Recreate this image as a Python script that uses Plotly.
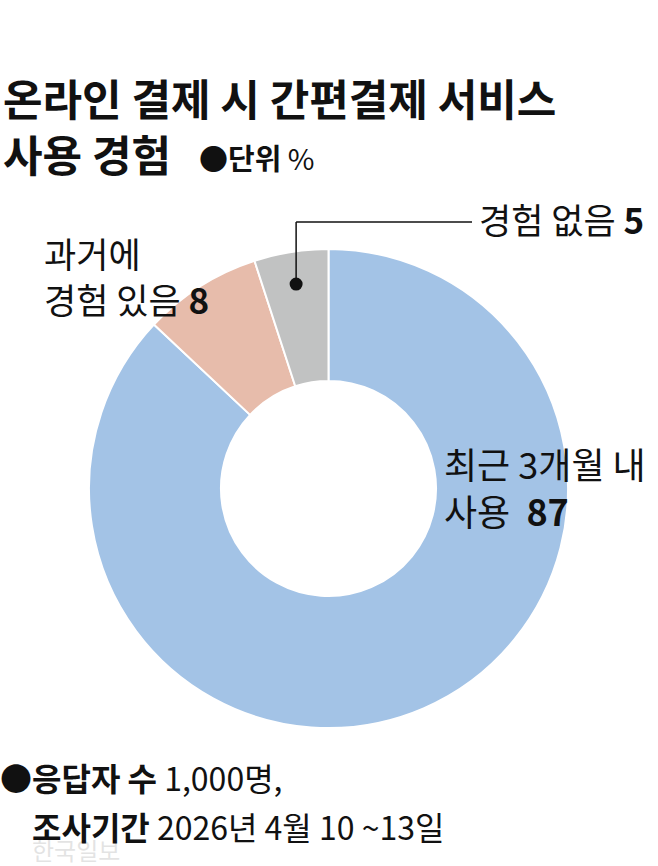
import math
import plotly.graph_objects as go

# ---- data ----
labels = ["최근 3개월 내 사용", "과거에 경험 있음", "경험 없음"]
values = [87, 8, 5]
colors = ["#a3c3e6", "#e7bcab", "#c1c2c2"]

title_lines = ["온라인 결제 시 간편결제 서비스", "사용 경험"]
unit_text = "●단위 %"
note_lines = ["<b>●응답자 수</b> 1,000명,", "<b>조사기간</b> 2026년 4월 10 ~13일"]

W, H = 658, 866
FONT = "Noto Sans CJK KR"

# pie geometry (pixels)
cx, cy, R = 328.5, 488.5, 239.5
hole = 0.449

def px(x):
    return x / W

def py(y):
    return 1 - y / H

fig = go.Figure()
fig.add_trace(go.Pie(
    labels=labels, values=values, sort=False, direction="clockwise", rotation=0,
    hole=hole, textinfo="none", hoverinfo="label+value",
    marker=dict(colors=colors, line=dict(color="white", width=2)),
    domain=dict(x=[px(cx - R), px(cx + R)], y=[py(cy + R), py(cy - R)]),
    showlegend=False,
))

ann = []
def text(x, y, s, size, color="#111111", xanchor="left"):
    ann.append(dict(x=px(x), y=py(y), xref="paper", yref="paper", text=s,
                    showarrow=False, xanchor=xanchor, yanchor="middle", align="left",
                    font=dict(family=FONT, size=size, color=color)))

# watermark (drawn first, behind)
text(30, 849, "한국일보", 24, color="rgba(200,200,200,0.5)")

# title
text(1, 125, "<b>" + title_lines[0] + "</b><br><b>" + title_lines[1] + "</b>", 43)
text(197, 157, "<b>" + unit_text.split(" ")[0] + "</b> " + unit_text.split(" ")[1], 29)

# slice labels
text(42, 276, "과거에<br>경험 있음 <b>%d</b>" % values[1], 35)
text(477, 218, "경험 없음 <b>%d</b>" % values[2], 35)
text(442, 486, "최근 3개월 내<br>사용\u00a0\u00a0<b>%d</b>" % values[0], 36)

# notes
text(-2, 777, note_lines[0], 32)
text(30, 826, note_lines[1], 32)

# leader line for the smallest slice, anchored at its mid-angle
total = sum(values)
mid = (values[0] + values[1] + values[2] / 2) / total * 2 * math.pi
r_dot = 207
dx = cx + r_dot * math.sin(mid)
dy = cy - r_dot * math.cos(mid)
line_y = 222
shapes = [
    dict(type="line", xref="paper", yref="paper", x0=px(dx), y0=py(dy), x1=px(dx), y1=py(line_y),
         line=dict(color="#111111", width=1.5)),
    dict(type="line", xref="paper", yref="paper", x0=px(dx), y0=py(line_y), x1=px(472), y1=py(line_y),
         line=dict(color="#111111", width=1.5)),
    dict(type="circle", xref="paper", yref="paper", x0=px(dx - 6.5), x1=px(dx + 6.5),
         y0=py(dy + 6.5), y1=py(dy - 6.5), fillcolor="#111111", line=dict(width=0)),
]

fig.update_layout(
    width=W, height=H, margin=dict(l=0, r=0, t=0, b=0),
    paper_bgcolor="white", plot_bgcolor="white",
    annotations=ann, shapes=shapes,
)
fig.write_html("out.html")
